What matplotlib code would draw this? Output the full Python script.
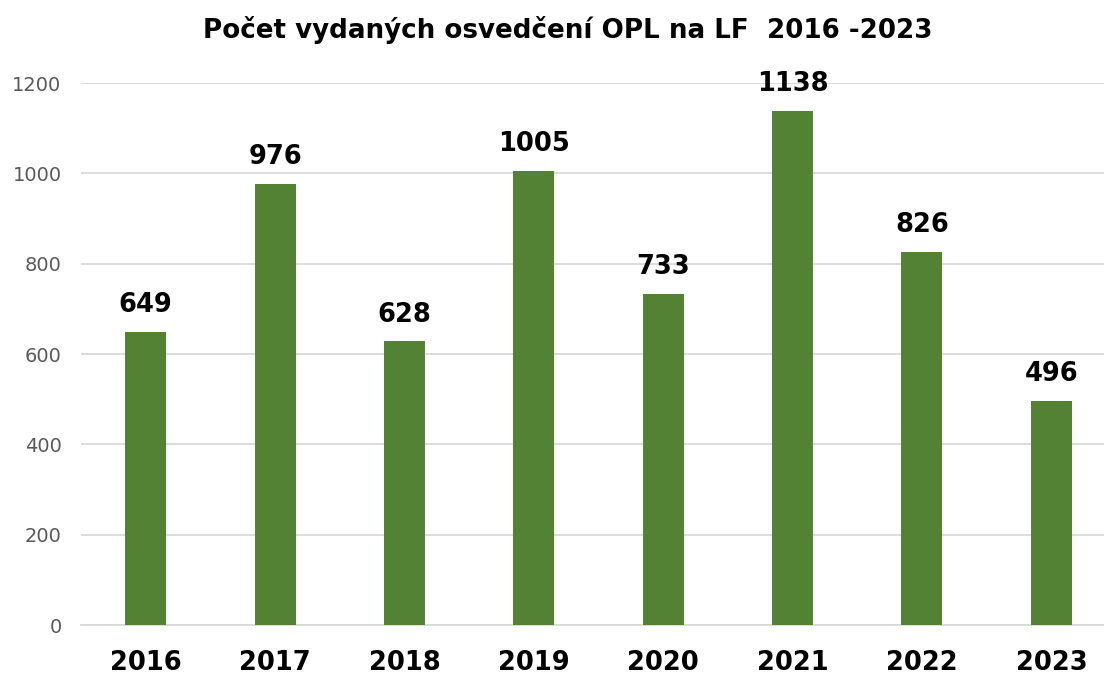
import matplotlib
matplotlib.use("Agg")
import matplotlib.pyplot as plt

years = ["2016", "2017", "2018", "2019", "2020", "2021", "2022", "2023"]
values = [649, 976, 628, 1005, 733, 1138, 826, 496]
yticks = [0, 200, 400, 600, 800, 1000, 1200]
title = "Počet vydaných osvedčení OPL na LF  2016 -2023"

plt.rcParams['font.family'] = ['DejaVu Sans']
fig = plt.figure(figsize=(11.04, 6.75), dpi=100)
ax = fig.add_axes([0.0734, 0.074, 0.9375, 0.803])

x = range(len(years))
bars = ax.bar(x, values, width=0.317, color="#548235", zorder=3)
for xi, v in zip(x, values):
    ax.annotate(str(v), (xi, v), xytext=(0, 10), textcoords="offset points",
                ha="center", va="bottom", fontsize=18.5,
                fontweight="bold", color="black")

ax.set_xlim(-0.5, len(years) - 0.5)
ax.set_ylim(0, 1200)
ax.set_yticks(yticks)
ax.set_yticklabels([str(t) for t in yticks], fontsize=14, color="#595959")
ax.set_xticks(list(x))
ax.set_xticklabels(years, fontsize=18.5, fontweight="bold", color="black")
ax.tick_params(axis="both", length=0)
ax.tick_params(axis="y", pad=14)
ax.tick_params(axis="x", pad=18)
ax.yaxis.grid(True, color="#D9D9D9", linewidth=1.3, zorder=0)
ax.set_axisbelow(True)
for s in ["top", "right", "left"]:
    ax.spines[s].set_visible(False)
ax.spines["bottom"].set_color("#D9D9D9")
ax.spines["bottom"].set_linewidth(1.3)

fig.text(0.514, 0.955, title, ha="center", va="center", fontsize=18.8,
         fontweight="bold", color="black")

fig.savefig("out.png", dpi=100)
